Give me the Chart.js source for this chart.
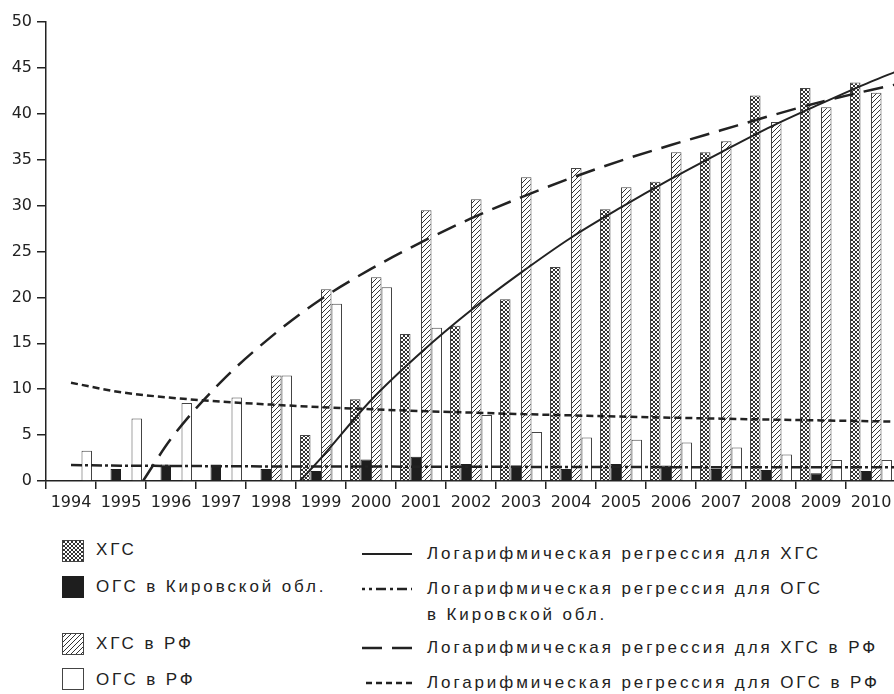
<!DOCTYPE html>
<html><head><meta charset="utf-8">
<script src="https://cdn.jsdelivr.net/npm/chart.js@4"></script>
<style>
html,body{margin:0;padding:0;overflow:hidden;background:#fff;width:894px;height:694px;position:relative;}
.cv{position:absolute;left:0;top:0;width:900px;height:525px;}
.lg{position:absolute;font-family:"Liberation Sans",Arial,sans-serif;font-size:17px;letter-spacing:2.9px;color:#222;white-space:nowrap;line-height:20px;}
.sw{position:absolute;}
</style></head>
<body>
<div class="cv"><canvas id="c" width="900" height="525"></canvas></div>
<div class="cv"><canvas id="t" width="900" height="525"></canvas></div>
<div id="legend"></div>
<script>
// ---- data ----
const years = ['1994','1995','1996','1997','1998','1999','2000','2001','2002','2003','2004','2005','2006','2007','2008','2009','2010'];
const xgs      = [null,null,null,null,null,5.0,8.9,16.0,16.9,19.8,23.3,29.6,32.6,35.8,42.0,42.8,43.4];
const ogsKirov = [null,1.3,1.8,1.8,1.3,1.1,2.35,2.65,1.85,1.65,1.3,1.85,1.7,1.3,1.2,0.85,1.1];
const xgsRF    = [null,null,null,null,11.5,20.9,22.2,29.5,30.7,33.1,34.1,32.0,35.8,37.0,39.1,40.7,42.3];
const ogsRF    = [3.3,6.8,8.5,9.1,11.5,19.3,21.1,16.7,7.2,5.35,4.75,4.5,4.2,3.65,2.9,2.3,2.3];

// trend lines
const trendXgsX = [1998.58,1999,2000,2001,2002,2003,2004,2005,2006,2007,2008,2009,2010,2010.5];
const trendXgsY = [0,2.5,8.8,14.0,18.6,22.7,26.5,29.8,32.9,35.8,38.6,41.1,43.5,44.6];
const trendXgsRFX = [1995.44,1996,1997,1998,1999,2000,2001,2002,2003,2004,2005,2006,2007,2008,2009,2010,2010.5];
const trendXgsRFY = [0,4.6,10.8,15.7,19.8,23.1,26.0,28.6,30.9,33.0,34.9,36.6,38.2,39.8,41.3,42.6,43.2];
const trendOgsX = [1994,1995,1996,1997,1998,1999,2000,2001,2002,2003,2004,2005,2006,2007,2008,2009,2010,2010.5];
const trendOgsRFY = [10.7,9.67,9.07,8.65,8.32,8.05,7.82,7.62,7.45,7.29,7.15,7.02,6.90,6.79,6.69,6.60,6.51,6.47];
const trendOgsKirovY = [1.73,1.67,1.64,1.61,1.59,1.58,1.57,1.56,1.55,1.54,1.53,1.52,1.51,1.51,1.50,1.50,1.49,1.49];

const yTicksStep = 5;

// ---- patterns ----
function crossPattern(){
  const c=document.createElement('canvas'); c.width=c.height=4;
  const g=c.getContext('2d'); g.fillStyle='#fff'; g.fillRect(0,0,4,4);
  g.strokeStyle='#333'; g.lineWidth=1; g.beginPath();
  g.moveTo(-1,-1); g.lineTo(5,5); g.moveTo(5,-1); g.lineTo(-1,5); g.stroke();
  return c;
}
function hatchPattern(){
  const c=document.createElement('canvas'); c.width=c.height=5;
  const g=c.getContext('2d'); g.fillStyle='#fff'; g.fillRect(0,0,5,5);
  g.strokeStyle='#333'; g.lineWidth=1; g.beginPath();
  g.moveTo(-1,6); g.lineTo(6,-1); g.moveTo(-1,1); g.lineTo(1,-1); g.moveTo(4,6); g.lineTo(6,4); g.stroke();
  return c;
}
const ctx=document.getElementById('c').getContext('2d');
const crossFill=ctx.createPattern(crossPattern(),'repeat');
const hatchFill=ctx.createPattern(hatchPattern(),'repeat');
const INK='#222';
const PAD={left:46,right:4,top:22,bottom:44};
const TICKFONT={family:'DejaVu Sans',size:16};

const pts=(xs,ys)=>xs.map((x,i)=>({x:x,y:ys[i]}));

// bars + axes
new Chart(ctx,{
  type:'bar',
  data:{labels:years,datasets:[
    {label:'ХГС',data:xgs,backgroundColor:crossFill,borderColor:'#444',borderWidth:1},
    {label:'ОГС в Кировской обл.',data:ogsKirov,backgroundColor:'#1e1e1e',borderColor:'#1e1e1e',borderWidth:1},
    {label:'ХГС в РФ',data:xgsRF,backgroundColor:hatchFill,borderColor:'#444',borderWidth:1},
    {label:'ОГС в РФ',data:ogsRF,backgroundColor:'#fff',borderColor:'#444',borderWidth:1}
  ]},
  options:{
    responsive:false,animation:false,devicePixelRatio:1,
    layout:{padding:{left:0,right:PAD.right,top:PAD.top,bottom:0}},
    plugins:{legend:{display:false},tooltip:{enabled:false}},
    categoryPercentage:0.84,barPercentage:1.0,
    scales:{
      x:{type:'category',offset:true,
        grid:{offset:true,drawOnChartArea:false,tickLength:8,color:INK,lineWidth:1.5},
        border:{color:INK,width:1.5},
        ticks:{font:TICKFONT,color:INK,padding:4,maxRotation:0,autoSkip:false},
        afterFit(s){s.height=PAD.bottom;}},
      y:{min:0,max:50,
        ticks:{stepSize:yTicksStep,font:TICKFONT,color:INK,padding:5},
        grid:{drawOnChartArea:false,tickLength:9,color:INK,lineWidth:1.5},
        border:{color:INK,width:1.5},
        afterFit(s){s.width=PAD.left;}}
    }
  }
});

// trend lines on an overlay with the same plot area
const lineBase={pointRadius:0,fill:false,borderColor:INK,cubicInterpolationMode:'monotone'};
new Chart(document.getElementById('t').getContext('2d'),{
  type:'line',
  data:{datasets:[
    Object.assign({},lineBase,{label:'Логарифмическая регрессия для ХГС',data:pts(trendXgsX,trendXgsY),borderWidth:2}),
    Object.assign({},lineBase,{label:'Логарифмическая регрессия для ОГС в Кировской обл.',data:pts(trendOgsX,trendOgsKirovY),borderWidth:2.5,borderDash:[11,3,3,3]}),
    Object.assign({},lineBase,{label:'Логарифмическая регрессия для ХГС в РФ',data:pts(trendXgsRFX,trendXgsRFY),borderWidth:2.5,borderDash:[20,10]}),
    Object.assign({},lineBase,{label:'Логарифмическая регрессия для ОГС в РФ',data:pts(trendOgsX,trendOgsRFY),borderWidth:2.5,borderDash:[7,4]})
  ]},
  options:{
    responsive:false,animation:false,devicePixelRatio:1,
    layout:{padding:PAD},
    plugins:{legend:{display:false},tooltip:{enabled:false}},
    scales:{
      x:{type:'linear',display:false,min:1993.5,max:2010.5,offset:false},
      y:{type:'linear',display:false,min:0,max:50}
    }
  }
});

// ---- legend (HTML) ----
const L=document.getElementById('legend');
function swatch(x,y,fill,stroke){
  const c=document.createElement('canvas'); c.width=22; c.height=22; c.className='sw';
  c.style.left=x+'px'; c.style.top=y+'px';
  const g=c.getContext('2d');
  g.fillStyle = fill==='cross'?g.createPattern(crossPattern(),'repeat'):fill==='hatch'?g.createPattern(hatchPattern(),'repeat'):fill;
  g.fillRect(0,0,22,22); g.strokeStyle=stroke; g.lineWidth=1; g.strokeRect(0.5,0.5,21,21);
  L.appendChild(c);
}
function lineSw(x,yc,dash,w){
  const c=document.createElement('canvas'); c.width=52; c.height=8; c.className='sw';
  c.style.left=x+'px'; c.style.top=(yc-4)+'px';
  const g=c.getContext('2d'); g.strokeStyle=INK; g.lineWidth=w; g.setLineDash(dash);
  g.beginPath(); g.moveTo(0,4); g.lineTo(50,4); g.stroke();
  L.appendChild(c);
}
function text(x,top,s){
  const d=document.createElement('div'); d.className='lg'; d.style.left=x+'px'; d.style.top=top+'px'; d.textContent=s; L.appendChild(d);
}
swatch(62,540,'cross','#444'); text(96,540,'ХГС');
swatch(62,576,'#1e1e1e','#1e1e1e'); text(96,577,'ОГС в Кировской обл.');
swatch(62,633,'hatch','#444'); text(96,634,'ХГС в РФ');
swatch(62,668,'#fff','#444'); text(96,670,'ОГС в РФ');

lineSw(362,554,[],2); text(427,544,'Логарифмическая регрессия для ХГС');
lineSw(362,589,[3,4,3,4,10,4,3,4,10,4],2.5); text(427,579,'Логарифмическая регрессия для ОГС'); text(427,605,'в Кировской обл.');
lineSw(362,648,[20,10],2.5); text(427,638,'Логарифмическая регрессия для ХГС в РФ');
lineSw(366,683,[6,4],2.5); text(427,673,'Логарифмическая регрессия для ОГС в РФ');
</script>
</body></html>
